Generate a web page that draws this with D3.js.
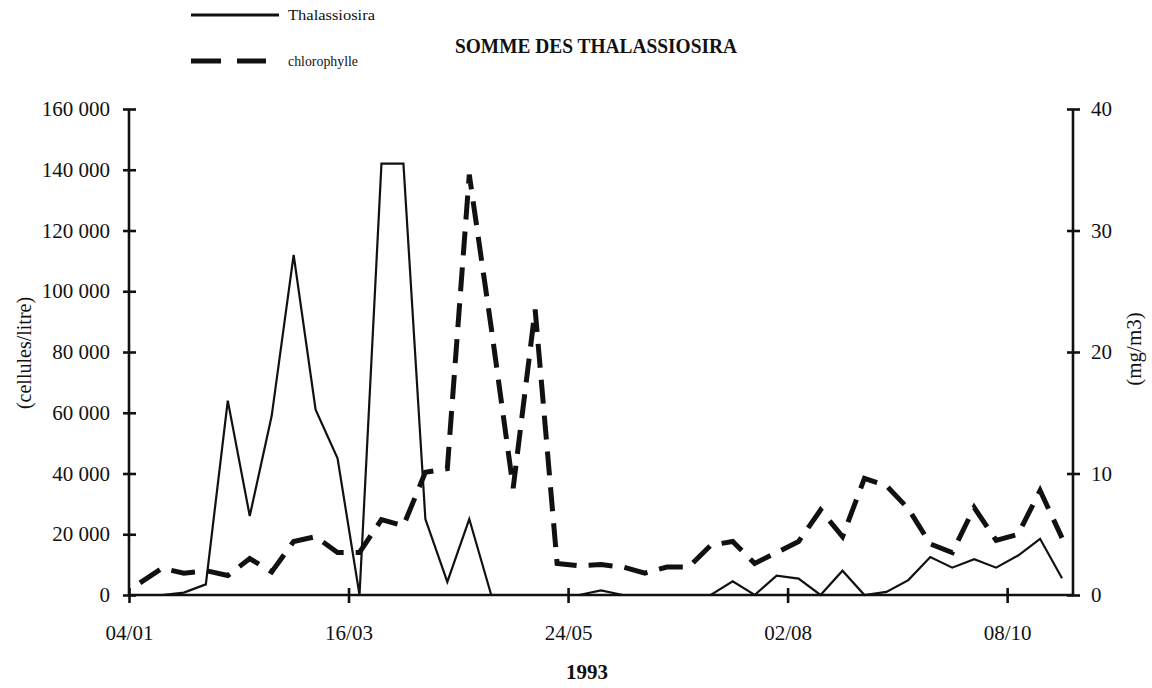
<!DOCTYPE html>
<html>
<head>
<meta charset="utf-8">
<script src="https://cdn.jsdelivr.net/npm/d3@7"></script>
<style>
  html, body { margin: 0; padding: 0; background: #fff; }
  svg { display: block; }
  text { font-family: "Liberation Serif", "Times New Roman", serif; fill: #111; }
</style>
</head>
<body>
<svg id="chart" width="1152" height="688"></svg>
<script>
// ---- data (weekly-ish sampling, 43 samples in 1993) ----
const samples = d3.range(1, 44); // sample number 1..43
const tickIndices = [0, 10, 20, 30, 40];
const tickLabels = ["04/01", "16/03", "24/05", "02/08", "08/10"];

// Thalassiosira (cellules/litre)
const thalassiosira = [
  0, 0, 800, 3500, 64000, 26000, 59000, 112000, 61000, 45000,
  0, 142000, 142000, 25000, 4300, 25000, 0, 0, 0, 0,
  0, 1500, 0, 0, 0, 0, 0, 4500, 0, 6400,
  5400, 0, 8000, 0, 1000, 4900, 12500, 9000, 11800, 9000,
  13000, 18500, 5500
];

// chlorophylle (mg/m3)
const chlorophylle = [
  1.0, 2.2, 1.8, 2.0, 1.6, 3.0, 1.9, 4.4, 4.8, 3.5,
  3.5, 6.2, 5.7, 10.1, 10.4, 34.6, 22.0, 8.8, 23.5, 2.6,
  2.4, 2.5, 2.3, 1.8, 2.3, 2.3, 4.1, 4.4, 2.6, 3.5,
  4.4, 7.0, 4.8, 9.6, 9.0, 7.1, 4.2, 3.5, 7.2, 4.5,
  5.0, 8.6, 4.7
];

const leftTicks = [0, 20000, 40000, 60000, 80000, 100000, 120000, 140000, 160000];
const rightTicks = [0, 10, 20, 30, 40];

// ---- layout ----
const svg = d3.select("#chart");
const X0 = 129, X1 = 1073, Y0 = 595, Y1 = 109;

const x = d3.scaleLinear().domain([0, samples.length]).range([X0, X1]);
const yL = d3.scaleLinear().domain([0, 160000]).range([Y0, Y1]);
const yR = d3.scaleLinear().domain([0, 40]).range([Y0, Y1]);

const fmt = d => d3.format(",")(d).replace(/,/g, " ");

// left axis
const gL = svg.append("g").attr("transform", `translate(${X0},0)`)
  .call(d3.axisLeft(yL).tickValues(leftTicks).tickFormat(fmt).tickSize(6).tickPadding(13));
// right axis
const gR = svg.append("g").attr("transform", `translate(${X1},0)`)
  .call(d3.axisRight(yR).tickValues(rightTicks).tickSize(6).tickPadding(12));
// bottom axis
const gB = svg.append("g").attr("transform", `translate(0,${Y0})`)
  .call(d3.axisBottom(x).tickValues(tickIndices).tickFormat((d, i) => tickLabels[i]).tickSize(8).tickPadding(22));

[gL, gR, gB].forEach(g => {
  g.select(".domain").attr("stroke", "#111").attr("stroke-width", 2.6);
  g.selectAll(".tick line").attr("stroke", "#111").attr("stroke-width", 2.6);
  g.selectAll(".tick text").attr("font-family", "Liberation Serif").attr("font-size", 21).attr("fill", "#111");
});
// ticks cross the axes
gL.selectAll(".tick line").attr("x1", 7).attr("x2", -6);
gR.selectAll(".tick line").attr("x1", -6).attr("x2", 7);
gB.selectAll(".tick line").attr("y1", -7).attr("y2", 8);
// remove outer tick ends of the domain path
gL.select(".domain").attr("d", `M0,${Y0}V${Y1}`);
gR.select(".domain").attr("d", `M0,${Y0}V${Y1}`);
gB.select(".domain").attr("d", `M${X0},0H${X1}`);

// ---- lines ----
const lineL = d3.line().x((d, i) => x(i + 0.5)).y(d => yL(d));
const lineR = d3.line().x((d, i) => x(i + 0.5)).y(d => yR(d));

svg.append("path").datum(chlorophylle)
  .attr("d", lineR).attr("fill", "none").attr("stroke", "#111")
  .attr("stroke-width", 5).attr("stroke-dasharray", "24 12")
  .attr("stroke-linejoin", "miter");

svg.append("path").datum(thalassiosira)
  .attr("d", lineL).attr("fill", "none").attr("stroke", "#111")
  .attr("stroke-width", 2.2).attr("stroke-linejoin", "miter");

// ---- titles ----
svg.append("text").attr("x", 455).attr("y", 53)
  .attr("font-size", 20).attr("font-weight", "bold")
  .attr("textLength", 282).attr("lengthAdjust", "spacingAndGlyphs")
  .text("SOMME DES THALASSIOSIRA");

svg.append("text").attr("x", 587).attr("y", 679).attr("text-anchor", "middle")
  .attr("font-size", 21).attr("font-weight", "bold").text("1993");

svg.append("text").attr("transform", "translate(31,353) rotate(-90)")
  .attr("text-anchor", "middle").attr("font-family", "Liberation Sans")
  .attr("font-size", 20).text("(cellules/litre)");

svg.append("text").attr("transform", "translate(1141,349) rotate(-90)")
  .attr("text-anchor", "middle").attr("font-size", 21).text("(mg/m3)");

// ---- legend ----
const legend = svg.append("g");
legend.append("line").attr("x1", 191).attr("x2", 279).attr("y1", 15).attr("y2", 15)
  .attr("stroke", "#111").attr("stroke-width", 3);
legend.append("text").attr("x", 288).attr("y", 20).attr("font-size", 15)
  .attr("textLength", 87).attr("lengthAdjust", "spacingAndGlyphs").text("Thalassiosira");
legend.append("line").attr("x1", 191).attr("x2", 266).attr("y1", 61).attr("y2", 61)
  .attr("stroke", "#111").attr("stroke-width", 5).attr("stroke-dasharray", "30 16");
legend.append("text").attr("x", 288).attr("y", 66).attr("font-size", 15)
  .attr("textLength", 70).attr("lengthAdjust", "spacingAndGlyphs").text("chlorophylle");
</script>
</body>
</html>
